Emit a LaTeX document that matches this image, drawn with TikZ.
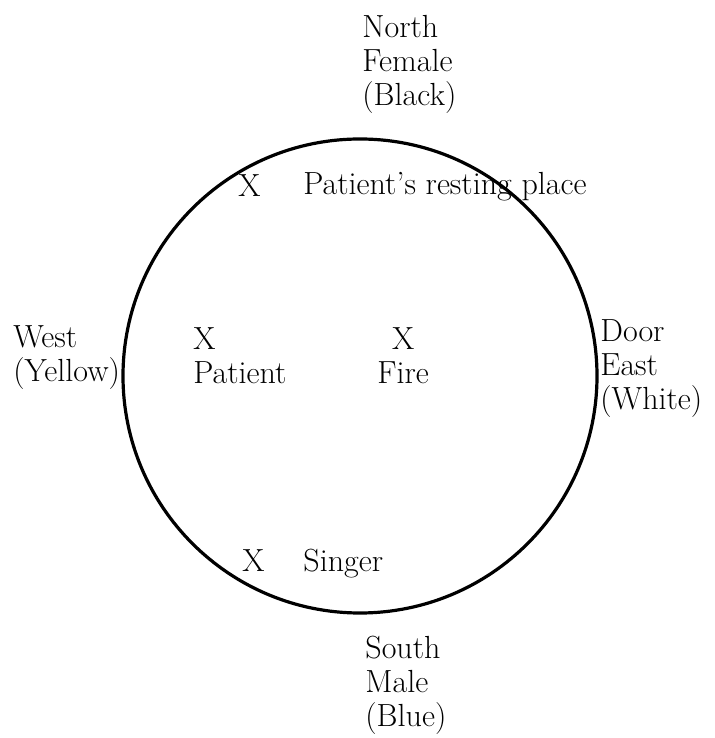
\documentclass[tikz,border=0pt]{standalone}
\usepackage{tikz}

\begin{document}
\begin{tikzpicture}[x=0.5pt, y=0.5pt,
  lbl/.style={font={\fontsize{16}{17}\selectfont}, align=left, inner sep=0pt, anchor=base west}]
\useasboundingbox (0,0) rectangle (715,738);
\draw[line width=1.6pt] (360,362) circle (237);
% directions (anchored at the last line)
\node[lbl] (north) at (362,632) {North\\Female\\(Black)};
\node[lbl] (south) at (365,11) {South\\Male\\(Blue)};
\node[lbl] (west) at (13,356) {West\\(Yellow)};
\node[lbl] (door) at (600,328) {Door\\East\\(White)};
% places inside
\node[lbl] (restx) at (238,541) {X};
\node[lbl] (rest) at (303,543) {Patient's resting place};
\node[lbl] (patient) at (193,354) {X\\Patient};
\node[lbl, align=center] (fire) at (377,354) {X\\Fire};
\node[lbl] (singx) at (242,166) {X};
\node[lbl] (singer) at (303,166) {Singer};
\end{tikzpicture}
\end{document}
